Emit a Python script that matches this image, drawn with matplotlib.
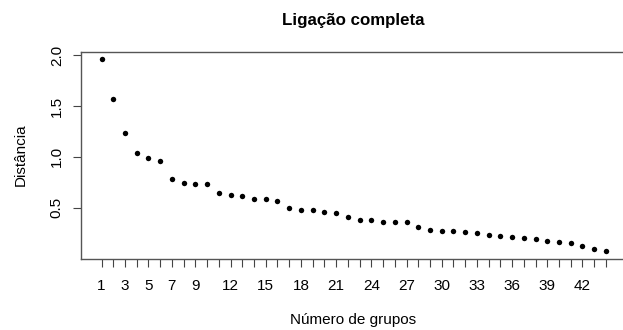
import matplotlib.pyplot as plt

plt.rcParams['font.family'] = ['Liberation Sans', 'DejaVu Sans']

# altura de fusão por número de grupos
grupos = list(range(1, 45))
distancia = [1.961, 1.567, 1.235, 1.035, 0.992, 0.963, 0.782, 0.746, 0.736, 0.730,
             0.647, 0.621, 0.615, 0.582, 0.582, 0.562, 0.496, 0.480, 0.480, 0.460,
             0.450, 0.408, 0.381, 0.378, 0.362, 0.362, 0.355, 0.313, 0.280, 0.270,
             0.270, 0.257, 0.250, 0.227, 0.221, 0.207, 0.198, 0.194, 0.168, 0.165,
             0.155, 0.119, 0.089, 0.076]
x_labels = [1, 3, 5, 7, 9, 12, 15, 18, 21, 24, 27, 30, 33, 36, 39, 42]
y_ticks = [0.5, 1.0, 1.5, 2.0]

W, H = 623, 330
fig = plt.figure(figsize=(W / 100, H / 100), dpi=100)
ax = fig.add_axes([81 / W, 1 - 258.5 / H, 545 / W, 206.5 / H])

ax.plot(grupos, distancia, 'o', color='black', markersize=3.9, markeredgewidth=0)

ax.set_xlim(-0.75, 45.71)
ax.set_ylim(0.0, 2.032)

ax.set_xticks(grupos)
ax.set_xticklabels([str(g) if g in x_labels else '' for g in grupos])
ax.set_yticks(y_ticks)
ax.set_yticklabels(['0.5', '1.0', '1.5', '2.0'], rotation=90, va='center')
ax.tick_params(axis='both', length=5.8, width=0.8, color='#444444', labelsize=11)
ax.tick_params(axis='x', pad=9.2)
ax.tick_params(axis='y', pad=6.6)

for s in ax.spines.values():
    s.set_color('#555555')
    s.set_linewidth(1.0)

fig.text(353 / W, 1 - 25.5 / H, 'Ligação completa', ha='center', va='baseline',
         fontsize=12.2, fontweight='bold')
fig.text(353 / W, 1 - 320 / H, 'Número de grupos', ha='center', va='center', fontsize=11)
fig.text(21 / W, 1 - 155 / H, 'Distância', ha='center', va='center', rotation=90, fontsize=11)

fig.savefig('out.png', dpi=100)
